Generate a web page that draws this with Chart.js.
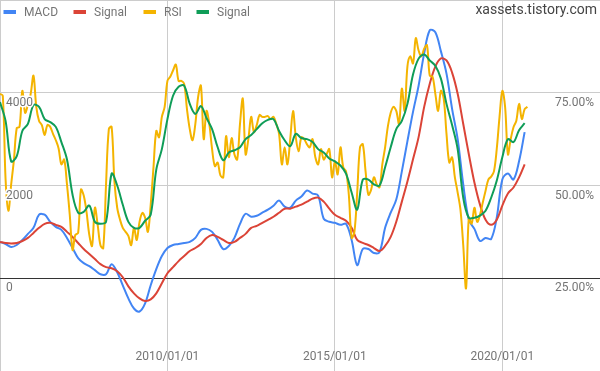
<!DOCTYPE html>
<html>
<head>
<meta charset="utf-8">
<script src="https://cdn.jsdelivr.net/npm/chart.js@4.4.1/dist/chart.umd.min.js"></script>
<style>
  html, body { margin: 0; padding: 0; background: #fff; }
  #wrap { width: 600px; height: 371px; }
</style>
</head>
<body>
<div id="wrap"><canvas id="chart" width="600" height="371"></canvas></div>
<script>
// x axis: decimal years, first value is 2005/01, monthly or bi-monthly steps
const startYear = 2005;
const xTickYears = [2005, 2010, 2015, 2020];
const xTickLabels = ['', '2010/01/01', '2015/01/01', '2020/01/01'];

const macdTickValues = [-2000, 0, 2000, 4000, 6000];
const macdTickLabels = ['', '0', '2000', '4000', ''];
const rsiTickValues = [0, 25, 50, 75, 100];
const rsiTickLabels = ['', '25.00%', '50.00%', '75.00%', ''];

const seriesNames = ['MACD', 'Signal', 'RSI', 'Signal'];
const seriesColors = ['#4285f4', '#db4437', '#f4b400', '#0f9d58'];

// every 2 months
const macd = [
  783, 739, 674, 717, 826, 957, 1087, 1370, 1370, 1217,
  1109, 1043, 870, 652, 435, 326, 261, 174, 87, 87,
  304, 130, -152, -435, -652, -717, -543, -152, 196, 478,
  652, 717, 739, 761, 783, 870, 1043, 1065, 1000, 826,
  630, 696, 870, 1174, 1391, 1326, 1348, 1413, 1478, 1565,
  1674, 1544, 1522, 1674, 1761, 1891, 1826, 1783, 1283, 1217,
  1196, 1152, 1174, 826, 283, 630, 630, 544, 565, 1087,
  1413, 1696, 2304, 2957, 3587, 4152, 4848, 5348, 5305, 4892,
  4413, 3652, 3000, 2022, 1261, 1065, 804, 870, 848, 1304,
  2130, 2261, 2130, 2522, 3152
];

const macdSignal = [
  783, 761, 750, 761, 804, 870, 978, 1087, 1174, 1196,
  1152, 1109, 1000, 891, 761, 630, 522, 413, 304, 239,
  217, 152, 22, -174, -326, -435, -489, -457, -326, -109,
  109, 239, 370, 478, 587, 652, 739, 870, 935, 891,
  826, 761, 783, 870, 957, 1087, 1130, 1196, 1261, 1326,
  1413, 1500, 1500, 1544, 1587, 1652, 1717, 1739, 1652, 1500,
  1370, 1304, 1239, 1087, 826, 761, 717, 652, 587, 696,
  891, 1217, 1652, 2087, 2565, 3044, 3696, 4196, 4565, 4739,
  4696, 4435, 3978, 3326, 2674, 2065, 1587, 1261, 1152, 1261,
  1565, 1826, 1957, 2174, 2457
];

// monthly
const rsi = [
  74.7, 74.2, 51.6, 43.2, 50.3, 57.0, 65.5, 65.8, 75.5, 69.6,
  71.7, 74.7, 79.6, 71.2, 67.4, 66.3, 63.6, 66.3, 65.8, 63.9,
  62.2, 60.0, 55.7, 57.0, 50.3, 42.1, 32.6, 36.7, 37.2, 48.9,
  47.3, 42.9, 36.7, 33.7, 44.0, 39.4, 33.9, 33.1, 50.3, 65.2,
  65.8, 51.1, 44.0, 40.8, 38.6, 37.5, 36.4, 33.9, 38.6, 35.3,
  40.2, 42.6, 41.3, 37.5, 44.8, 54.9, 64.7, 63.0, 68.5, 71.2,
  78.2, 79.3, 81.0, 82.6, 78.2, 78.2, 77.4, 70.6, 65.2, 62.2,
  66.6, 73.9, 76.9, 62.5, 70.1, 66.6, 59.8, 55.2, 56.2, 52.7,
  52.2, 63.3, 57.6, 62.8, 58.4, 57.0, 66.6, 73.4, 58.4, 62.5,
  68.5, 64.4, 66.3, 69.0, 68.5, 68.5, 68.7, 67.9, 68.5, 66.6,
  63.9, 55.7, 60.3, 55.7, 62.5, 70.1, 63.0, 59.2, 63.0, 62.5,
  61.1, 60.3, 62.5, 57.6, 55.7, 59.8, 57.0, 58.4, 59.8, 52.2,
  56.5, 53.0, 60.3, 54.9, 53.8, 47.5, 35.9, 37.5, 48.1, 60.3,
  61.1, 53.8, 47.5, 48.9, 52.2, 50.3, 49.5, 55.7, 60.3, 66.0,
  69.6, 71.2, 70.1, 66.6, 76.1, 70.1, 82.1, 84.8, 82.9, 89.7,
  86.4, 84.8, 86.9, 87.8, 79.6, 79.3, 74.7, 70.1, 75.5, 73.4,
  63.9, 56.2, 57.6, 52.2, 48.1, 43.5, 33.9, 22.3, 41.3, 39.7,
  44.0, 40.2, 42.1, 45.4, 48.6, 51.6, 52.4, 53.8, 59.8, 68.5,
  75.5, 71.2, 58.4, 62.5, 65.7, 67.4, 72.0, 67.9, 70.6, 71.2
];

// every 2 months
const rsiSignal = [
  72.5, 67.4, 56.5, 57.9, 64.7, 66.6, 71.7, 71.2, 67.9, 67.1,
  65.8, 61.7, 57.0, 47.5, 42.7, 42.9, 44.6, 40.2, 39.7, 40.2,
  53.2, 50.0, 44.8, 40.2, 38.6, 38.6, 40.5, 42.1, 54.3, 59.8,
  67.9, 74.2, 76.6, 76.9, 72.0, 69.3, 71.4, 68.2, 65.2, 60.3,
  56.8, 58.9, 59.5, 60.3, 62.5, 63.6, 65.2, 66.8, 67.7, 67.9,
  64.7, 62.2, 60.6, 63.9, 62.8, 62.5, 61.7, 59.8, 58.9, 57.3,
  56.5, 55.4, 53.2, 48.1, 43.5, 51.6, 51.6, 50.3, 50.0, 54.9,
  60.3, 65.2, 67.4, 72.0, 79.9, 84.2, 85.3, 83.7, 82.3, 78.8,
  72.0, 66.3, 59.8, 46.7, 41.3, 41.3, 41.9, 43.2, 46.7, 51.3,
  57.6, 62.5, 61.7, 64.9, 66.8
];

function toPoints(values, stepMonths) {
  return values.map((v, i) => ({ x: startYear + (i * stepMonths) / 12, y: v }));
}

const labelColor = '#757575';
const labelFont = { family: 'Roboto, Arial, sans-serif', size: 12 };

function flatten(scale) {
  scale.paddingLeft = 0;
  scale.paddingRight = 0;
  scale.paddingTop = 0;
  scale.paddingBottom = 0;
}

// legend, title and date labels are drawn inside the plot area
const overlayPlugin = {
  id: 'overlay',
  afterDraw(chart) {
    const ctx = chart.ctx;
    const boxX = [3.5, 73.5, 143.5, 196.5];
    const textX = [24, 94, 164, 217];
    ctx.save();
    ctx.font = '12px Roboto, Arial, sans-serif';
    ctx.textBaseline = 'alphabetic';
    chart.data.datasets.forEach((ds, i) => {
      ctx.fillStyle = ds.borderColor;
      ctx.fillRect(boxX[i], 10, 12.5, 4);
      ctx.fillStyle = labelColor;
      ctx.fillText(ds.label, textX[i], 16);
    });

    const xScale = chart.scales.x;
    ctx.textAlign = 'center';
    ctx.textBaseline = 'middle';
    xTickYears.forEach((yr, i) => {
      if (!xTickLabels[i]) return;
      ctx.fillText(xTickLabels[i], xScale.getPixelForValue(yr), 357);
    });

    ctx.font = '14px Roboto, Arial, sans-serif';
    ctx.textAlign = 'right';
    ctx.textBaseline = 'alphabetic';
    ctx.fillStyle = '#444444';
    ctx.fillText('xassets.tistory.com', 597, 14);
    ctx.restore();
  }
};

new Chart(document.getElementById('chart').getContext('2d'), {
  type: 'line',
  data: {
    datasets: [
      { label: seriesNames[0], data: toPoints(macd, 2), borderColor: seriesColors[0], yAxisID: 'y', order: 4 },
      { label: seriesNames[1], data: toPoints(macdSignal, 2), borderColor: seriesColors[1], yAxisID: 'y', order: 3 },
      { label: seriesNames[2], data: toPoints(rsi, 1), borderColor: seriesColors[2], yAxisID: 'y1', order: 2 },
      { label: seriesNames[3], data: toPoints(rsiSignal, 2), borderColor: seriesColors[3], yAxisID: 'y1', order: 1 }
    ]
  },
  options: {
    responsive: false,
    animation: false,
    layout: { padding: 0 },
    elements: {
      point: { radius: 0 },
      line: { borderWidth: 2, tension: 0.35, fill: false }
    },
    plugins: {
      legend: { display: false },
      tooltip: { enabled: false }
    },
    scales: {
      x: {
        type: 'linear',
        min: 2005,
        max: 2022.917,
        afterBuildTicks: s => { s.ticks = xTickYears.map(v => ({ value: v })); },
        afterFit: s => { s.height = 0; flatten(s); },
        grid: { color: '#cccccc', drawTicks: false },
        border: { display: false },
        ticks: { display: false }
      },
      y: {
        position: 'left',
        min: -2000,
        max: 6000,
        afterBuildTicks: s => { s.ticks = macdTickValues.map(v => ({ value: v })); },
        afterFit: s => { s.width = 0; flatten(s); },
        grid: {
          drawTicks: false,
          color: c => (c.tick && c.tick.value === 0 ? '#333333' : '#cccccc')
        },
        border: { display: false },
        ticks: {
          mirror: true,
          padding: 6,
          labelOffset: 10,
          z: 1,
          color: labelColor,
          font: labelFont,
          textStrokeColor: '#ffffff',
          textStrokeWidth: 3,
          callback: (v, i) => macdTickLabels[i]
        }
      },
      y1: {
        position: 'right',
        min: 0,
        max: 100,
        afterBuildTicks: s => { s.ticks = rsiTickValues.map(v => ({ value: v })); },
        afterFit: s => { s.width = 0; flatten(s); },
        grid: { drawOnChartArea: false, drawTicks: false },
        border: { display: false },
        ticks: {
          mirror: true,
          padding: -6,
          labelOffset: 10,
          z: 1,
          color: labelColor,
          font: labelFont,
          textStrokeColor: '#ffffff',
          textStrokeWidth: 3,
          callback: (v, i) => rsiTickLabels[i]
        }
      }
    }
  },
  plugins: [overlayPlugin]
});
</script>
</body>
</html>
